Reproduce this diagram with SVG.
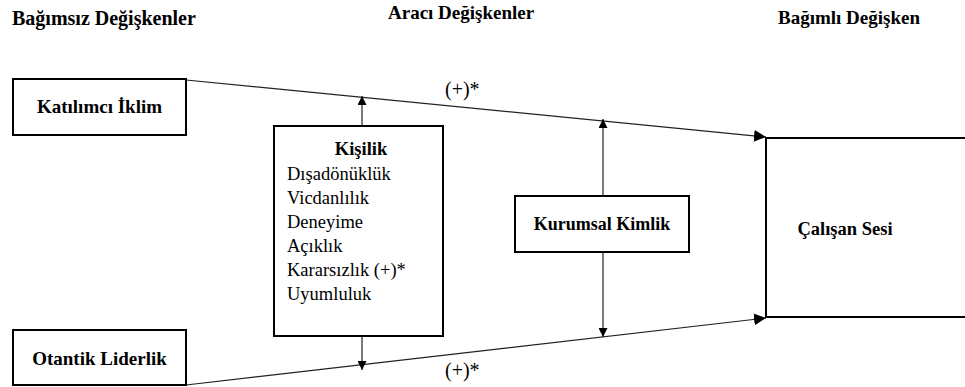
<svg xmlns="http://www.w3.org/2000/svg" width="965" height="387" viewBox="0 0 965 387">
<style>
text{font-family:'Liberation Serif','Times New Roman',Times,serif;fill:#000}
.hdr{font-weight:bold;font-size:19px}
.lbl{font-weight:bold;font-size:19px}
.itm{font-size:18.5px}
.sig{font-size:20px}
.box{fill:#fff;stroke:#000;stroke-width:2}
.con{stroke:#222;stroke-width:1.2;fill:none}
</style>
<defs>
<marker id="ah" viewBox="0 0 10 10" refX="10" refY="5" markerWidth="9" markerHeight="9" markerUnits="userSpaceOnUse" orient="auto">
<path d="M0,0 L10,5 L0,10 z" fill="#000"/>
</marker>
<marker id="ahb" viewBox="0 0 10 10" refX="10" refY="5" markerWidth="12" markerHeight="12" markerUnits="userSpaceOnUse" orient="auto">
<path d="M0,0 L10,5 L0,10 z" fill="#000"/>
</marker>
</defs>
<rect width="965" height="387" fill="#fff"/>
<g id="headers">
<text class="hdr" x="12" y="25" style="font-size:20px">Bağımsız Değişkenler</text>
<text class="hdr" x="388" y="19">Aracı Değişkenler</text>
<text class="hdr" x="778" y="24">Bağımlı Değişken</text>
</g>
<g id="connectors">
<line class="con" x1="186" y1="80" x2="766" y2="137" marker-end="url(#ahb)"/>
<line class="con" x1="186" y1="385" x2="766" y2="318" marker-end="url(#ahb)"/>
<line class="con" x1="362" y1="126" x2="362" y2="96" marker-end="url(#ah)"/>
<line class="con" x1="362" y1="336" x2="362" y2="370" marker-end="url(#ah)"/>
<line class="con" x1="603" y1="196" x2="603" y2="119" marker-end="url(#ah)"/>
<line class="con" x1="603" y1="252" x2="603" y2="337" marker-end="url(#ah)"/>
<text class="sig" x="445" y="96">(+)*</text>
<text class="sig" x="445" y="377">(+)*</text>
</g>
<g id="katilimci">
<rect class="box" x="13" y="79" width="173" height="56"/>
<text class="lbl" x="99.5" y="113" text-anchor="middle">Katılımcı İklim</text>
</g>
<g id="otantik">
<rect class="box" x="13" y="330" width="173" height="55"/>
<text class="lbl" x="99.5" y="365" text-anchor="middle">Otantik Liderlik</text>
</g>
<g id="kisilik">
<rect class="box" x="274" y="126" width="169" height="210"/>
<text class="lbl" x="361" y="155" text-anchor="middle" style="font-size:18.5px">Kişilik</text>
<text class="itm" x="287" y="180">Dışadönüklük</text>
<text class="itm" x="287" y="204">Vicdanlılık</text>
<text class="itm" x="287" y="228">Deneyime</text>
<text class="itm" x="287" y="252">Açıklık</text>
<text class="itm" x="287" y="276">Kararsızlık (+)*</text>
<text class="itm" x="287" y="300">Uyumluluk</text>
</g>
<g id="kurumsal">
<rect class="box" x="515" y="196" width="174" height="56"/>
<text class="lbl" x="602" y="230" text-anchor="middle" style="font-size:18px">Kurumsal Kimlik</text>
</g>
<g id="calisan">
<rect class="box" x="766" y="138" width="210" height="179"/>
<text class="lbl" x="845" y="235" text-anchor="middle" style="font-size:18.5px">Çalışan Sesi</text>
</g>
</svg>
